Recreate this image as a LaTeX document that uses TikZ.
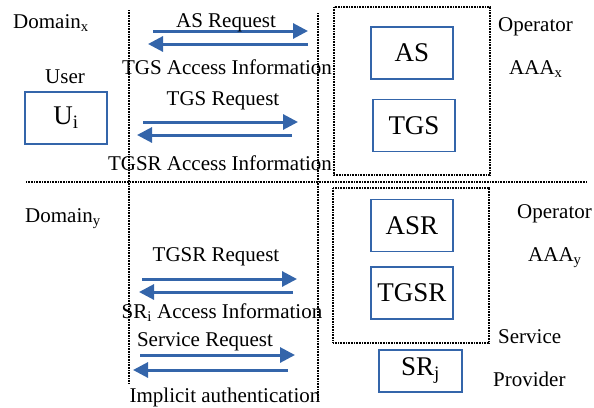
\documentclass[tikz,border=0pt]{standalone}
\usepackage{fontspec}
\setmainfont{Liberation Serif}
\usetikzlibrary{positioning}
\usetikzlibrary{arrows.meta}
\definecolor{msgblue}{RGB}{52,101,170}

\begin{document}
\begin{tikzpicture}
[x=1pt, y=-1pt, >={Triangle[length=15pt,width=15pt]},
 txt/.style={font=\fontsize{21}{24}\selectfont, inner sep=0pt},
 entity/.style={draw=msgblue, line width=1.5pt, minimum width=82pt,
   minimum height=52pt, font=\fontsize{27}{30}\selectfont, inner sep=0pt},
 msg/.style={->, draw=msgblue, line width=3pt},
 border/.style={dash pattern=on 1pt off 0.6pt, line width=1.4pt}]

\useasboundingbox (0,0) rectangle (594,407);

% Domain borders:
\draw[border] (129,10) -- (129,383);
\draw[border] (318,13) -- (318,400);
\draw[border] (26,182) -- (587,182);

% AAA servers:
\draw[border] (334,7) rectangle (490,175);
\draw[border] (333,188) rectangle (489,343);

% Entities:
\node[entity] (ui)   at (66,118)    {U\textsubscript{i}};
\node[entity] (as)   at (412,53)    {AS};
\node[entity] (tgs)  at (414,125.5) {TGS};
\node[entity] (asr)  at (412,225.5) {ASR};
\node[entity] (tgsr) at (412,293)   {TGSR};
\node[entity, minimum width=83pt, minimum height=42pt] (srj) at (420.5,371) {SR\textsubscript{j}};

% Domain and role labels:
\node[txt, anchor=west] (domx) at (13,23)  {Domain\textsubscript{x}};
\node[txt, anchor=west] (domy) at (25,219) {Domain\textsubscript{y}};
\node[txt] (user) at (65,77) {User};
\node[txt, anchor=west] (opx)  at (498,27)  {Operator};
\node[txt, anchor=west] (aaax) at (509,69)  {AAA\textsubscript{x}};
\node[txt, anchor=west] (opy)  at (517,214) {Operator};
\node[txt, anchor=west] (aaay) at (528,258) {AAA\textsubscript{y}};
\node[txt, anchor=west] (serv) at (498,337) {Service};
\node[txt, anchor=west] (prov) at (493,379) {Provider};

% Message end points:
\coordinate (asreqa) at (153,31);  \coordinate (asreqb) at (308,31);
\coordinate (tgsinfa) at (308,44); \coordinate (tgsinfb) at (148,44);
\coordinate (tgsreqa) at (143,122); \coordinate (tgsreqb) at (298,122);
\coordinate (tgsrinfa) at (292,135); \coordinate (tgsrinfb) at (137,135);
\coordinate (tgsrreqa) at (142,279); \coordinate (tgsrreqb) at (297,279);
\coordinate (srinfa) at (293,292); \coordinate (srinfb) at (139,292);
\coordinate (servreqa) at (140,355); \coordinate (servreqb) at (295,355);
\coordinate (implia) at (288,370); \coordinate (implib) at (133,370);

% Messages:
\draw[msg] (asreqa) -- (asreqb);
\draw[msg] (tgsinfa) -- (tgsinfb);
\draw[msg] (tgsreqa) -- (tgsreqb);
\draw[msg] (tgsrinfa) -- (tgsrinfb);
\draw[msg] (tgsrreqa) -- (tgsrreqb);
\draw[msg] (srinfa) -- (srinfb);
\draw[msg] (servreqa) -- (servreqb);
\draw[msg] (implia) -- (implib);

% Message labels:
\node[txt] (l1) at (226,23)  {AS Request};
\node[txt] (l2) at (227,67)  {TGS Access Information};
\node[txt] (l3) at (223,101) {TGS Request};
\node[txt] (l4) at (220,163) {TGSR Access Information};
\node[txt] (l5) at (216,257) {TGSR Request};
\node[txt] (l6) at (222,313) {SR\textsubscript{i} Access Information};
\node[txt] (l7) at (205,342) {Service Request};
\node[txt] (l8) at (225,397) {Implicit authentication};

\end{tikzpicture}
\end{document}
